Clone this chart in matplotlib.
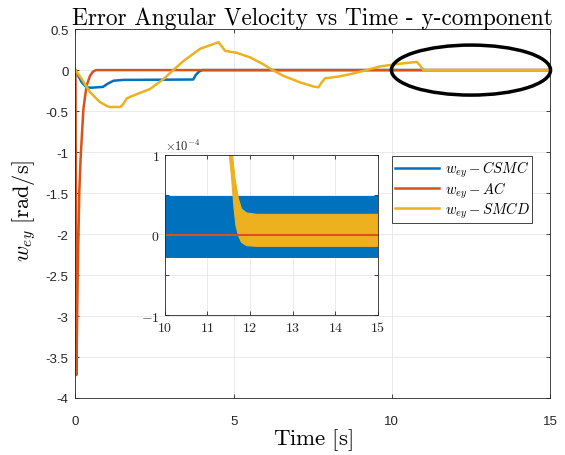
import matplotlib
matplotlib.use("Agg")
import matplotlib.pyplot as plt
import numpy as np
from matplotlib.patches import Ellipse
from matplotlib.ticker import FuncFormatter

plt.rcParams['font.family'] = ['Liberation Sans', 'DejaVu Sans']
plt.rcParams['mathtext.fontset'] = 'cm'
plt.rcParams['axes.unicode_minus'] = False

# ---- data ----
t_csmc = [0, 0.1, 0.2, 0.35, 0.5, 0.87, 1.0, 1.2, 1.5, 3.72, 3.8, 3.9, 4.0, 15]
w_csmc = [0, -0.08, -0.15, -0.21, -0.215, -0.205, -0.17, -0.13, -0.12, -0.115, -0.06, -0.02, 0, 0]

t_ac = [0, 0.03, 0.07, 0.12, 0.16, 0.25, 0.35, 0.46, 0.55, 0.65, 15]
w_ac = [0, -3.72, -2.5, -1.5, -1.09, -0.475, -0.19, -0.07, -0.02, 0, 0]

t_smcd = [0, 0.2, 0.46, 0.77, 1.0, 1.09, 1.41, 1.5, 1.62, 1.83, 2.36, 2.78, 3.09, 3.41,
          3.94, 4.52, 4.62, 4.73, 5.1, 5.52, 5.94, 6.23, 6.57, 7.1, 7.52, 7.68, 7.78,
          7.89, 8.3, 8.68, 9.2, 9.63, 10.2, 10.79, 10.9, 11.0, 15]
w_smcd = [0, -0.11, -0.27, -0.39, -0.44, -0.45, -0.45, -0.42, -0.345, -0.31, -0.23,
          -0.11, 0, 0.11, 0.26, 0.34, 0.29, 0.235, 0.21, 0.155, 0.07, 0, -0.07, -0.15,
          -0.2, -0.21, -0.15, -0.10, -0.08, -0.05, 0, 0.045, 0.075, 0.10, 0.05, 0, 0]

# zoomed steady state (10..15 s), envelopes of the chattering bands
band_csmc_t = [10, 15]
band_csmc_hi = [0.49e-4, 0.49e-4]
band_csmc_lo = [-0.29e-4, -0.29e-4]

zoom_ac_t = [10, 15]
zoom_ac_w = [0, 0]

band_smcd_lo_t = [11.50, 11.515, 11.57, 11.62, 11.67, 11.73, 11.80, 11.92, 12.16, 15]
band_smcd_lo = [1.2e-4, 1.0e-4, 0.7e-4, 0.367e-4, 0.117e-4, -0.008e-4, -0.092e-4,
                -0.133e-4, -0.142e-4, -0.142e-4]
band_smcd_hi_t = [11.575, 11.59, 11.65, 11.73, 11.80, 11.92, 12.16, 15]
band_smcd_hi = [1.2e-4, 1.0e-4, 0.7e-4, 0.45e-4, 0.325e-4, 0.275e-4, 0.258e-4, 0.258e-4]

highlight_center = (12.5, 0.0)
highlight_w = 5.03
highlight_h = 0.61

labels = [r'$w_{ey}-CSMC$', r'$w_{ey}-AC$', r'$w_{ey}-SMCD$']
colors = ['#0072BD', '#D95319', '#EDB120']
axcol = '#262626'

fig = plt.figure(figsize=(5.65, 4.56), dpi=100)
ax = fig.add_axes([0.1336, 0.125, 0.84, 0.809])

l1, = ax.plot(t_csmc, w_csmc, color=colors[0], lw=1.8, label=labels[0])
l2, = ax.plot(t_ac, w_ac, color=colors[1], lw=1.8, label=labels[1])
l3, = ax.plot(t_smcd, w_smcd, color=colors[2], lw=1.8, label=labels[2])

ax.add_patch(Ellipse(highlight_center, highlight_w, highlight_h, fill=False,
                     edgecolor='black', lw=2.5, clip_on=False, zorder=5))

ax.set_xlim(0, 15)
ax.set_ylim(-4, 0.5)
ax.set_xticks([0, 5, 10, 15])
ax.set_yticks(np.arange(-4, 0.51, 0.5))
ax.yaxis.set_major_formatter(FuncFormatter(lambda v, p: ('%g' % v)))
ax.grid(True, color='#e6e6e6', lw=0.6)
ax.set_axisbelow(True)
ax.tick_params(direction='in', length=3, top=True, right=True, labelsize=9.5,
               colors=axcol, width=0.6)
ax.tick_params(axis='x', pad=12)
ax.tick_params(axis='y', pad=5)
for s in ax.spines.values():
    s.set_color(axcol)
    s.set_linewidth(0.6)

ax.set_title('Error Angular Velocity vs Time - y-component', fontfamily='cmr10',
             fontsize=16.8, pad=4, color='black')
ax.set_xlabel(r'$\mathrm{Time\ [s]}$', fontsize=16.5, labelpad=0)
ax.set_ylabel(r'$w_{ey}\ \mathrm{[rad/s]}$', fontsize=16)
ax.yaxis.set_label_coords(-0.08, 0.51)

leg = fig.legend(handles=[l1, l2, l3], loc='upper left',
                 bbox_to_anchor=(0.694, 0.656), bbox_transform=fig.transFigure,
                 fancybox=False, framealpha=1, edgecolor=axcol, fontsize=10.5,
                 handlelength=3, borderpad=0.2, labelspacing=0.0, handletextpad=0.4,
                 borderaxespad=0)
leg.get_frame().set_linewidth(0.6)

# inset
ins = fig.add_axes([0.2915, 0.307, 0.3775, 0.351])
ins.fill_between(band_csmc_t, band_csmc_lo, band_csmc_hi, color=colors[0], lw=0)
ins.plot(zoom_ac_t, zoom_ac_w, color=colors[1], lw=1.5)
ins.fill(np.concatenate([band_smcd_lo_t, band_smcd_hi_t[::-1]]),
         np.concatenate([band_smcd_lo, band_smcd_hi[::-1]]), color=colors[2], lw=0.8,
         edgecolor=colors[2])
ins.set_xlim(10, 15)
ins.set_ylim(-1e-4, 1e-4)
ins.set_xticks([10, 11, 12, 13, 14, 15])
ins.set_yticks([-1e-4, -0.5e-4, 0, 0.5e-4, 1e-4])
ins.xaxis.set_major_formatter(FuncFormatter(lambda v, p: r'$%d$' % round(v)))
ins.yaxis.set_major_formatter(FuncFormatter(
    lambda v, p: (r'$%d$' % round(v * 1e4)) if abs(v * 1e4 - round(v * 1e4)) < 1e-6 else ''))
ins.grid(True, color='#e6e6e6', lw=0.6)
ins.set_axisbelow(True)
ins.tick_params(direction='in', length=3, top=True, right=True, labelsize=10,
                colors=axcol, width=0.6)
for s in ins.spines.values():
    s.set_color(axcol)
    s.set_linewidth(0.6)
ins.text(0.0, 1.01, r'$\times10^{-4}$', transform=ins.transAxes, fontsize=9,
         ha='left', va='bottom', color=axcol)

fig.savefig('out.png', dpi=100)
